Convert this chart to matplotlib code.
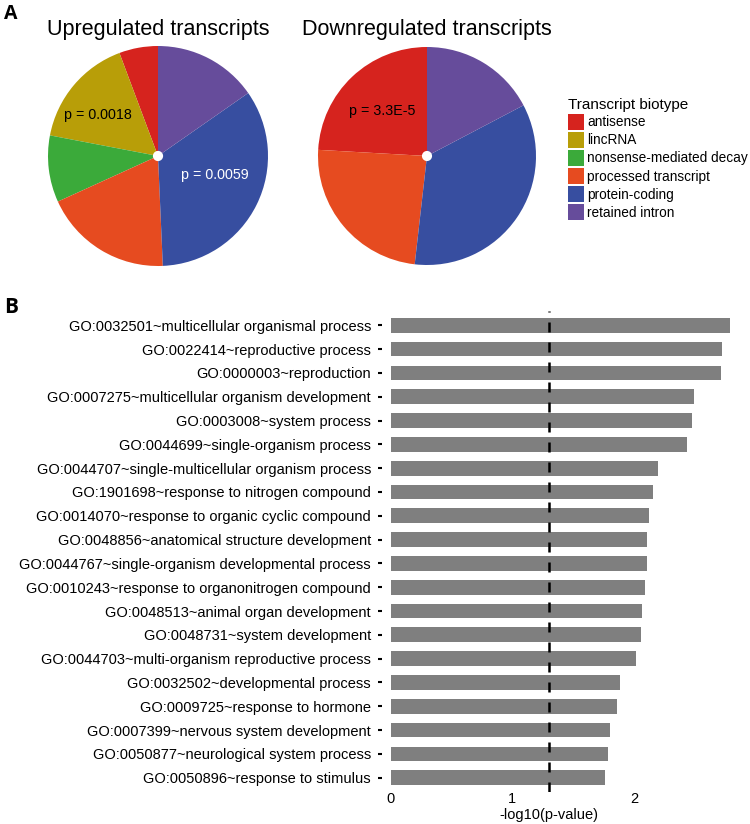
import numpy as np
import matplotlib
matplotlib.use("Agg")
import matplotlib.pyplot as plt
from matplotlib.patches import Patch

plt.rcParams['font.family'] = ['Liberation Sans', 'DejaVu Sans']

# pie data (percent of transcripts)
biotypes = ["antisense", "lincRNA", "nonsense-mediated decay",
            "processed transcript", "protein-coding", "retained intron"]
biotype_colors = ["#D6231E", "#B89E08", "#3BAA3A", "#E64B20", "#374EA0", "#664C9B"]
up_share = [5.7, 16.3, 9.8, 18.9, 34.0, 15.3]
down_share = [24.1, 0.0, 0.0, 24.1, 34.5, 17.3]

# GO enrichment (-log10 p)
go_terms = [
    "GO:0032501~multicellular organismal process",
    "GO:0022414~reproductive process",
    "GO:0000003~reproduction",
    "GO:0007275~multicellular organism development",
    "GO:0003008~system process",
    "GO:0044699~single-organism process",
    "GO:0044707~single-multicellular organism process",
    "GO:1901698~response to nitrogen compound",
    "GO:0014070~response to organic cyclic compound",
    "GO:0048856~anatomical structure development",
    "GO:0044767~single-organism developmental process",
    "GO:0010243~response to organonitrogen compound",
    "GO:0048513~animal organ development",
    "GO:0048731~system development",
    "GO:0044703~multi-organism reproductive process",
    "GO:0032502~developmental process",
    "GO:0009725~response to hormone",
    "GO:0007399~nervous system development",
    "GO:0050877~neurological system process",
    "GO:0050896~response to stimulus",
]
go_logp = [2.786, 2.722, 2.717, 2.495, 2.478, 2.437, 2.199, 2.158, 2.120, 2.106,
           2.104, 2.090, 2.065, 2.057, 2.018, 1.882, 1.863, 1.800, 1.786, 1.763]
cutoff = -np.log10(0.05)

W, H = 750, 824
fig = plt.figure(figsize=(W / 100, H / 100), dpi=100)


def px_axes(left, top, width, height):
    return fig.add_axes([left / W, 1 - (top + height) / H, width / W, height / H])


def draw_pie(cx, cy, r, share, title, labels):
    ax = px_axes(cx - r, cy - r, 2 * r, 2 * r)
    ax.pie(share, colors=biotype_colors, startangle=90, counterclock=True,
           wedgeprops=dict(linewidth=0))
    ax.set_xlim(-1, 1)
    ax.set_ylim(-1, 1)
    ax.add_patch(plt.Circle((0, 0), 0.04, color="white", zorder=5))
    for (tx, ty, txt, col) in labels:
        ax.text(tx, ty, txt, ha="center", va="center", fontsize=10.3, color=col)
    fig.text(cx / W, 1 - 29 / H, title, ha="center", va="center", fontsize=15.5)
    return ax


draw_pie(158, 156, 110, up_share, "Upregulated transcripts",
         [(-0.55, 0.37, "p = 0.0018", "black"), (0.52, -0.17, "p = 0.0059", "white")])
draw_pie(427, 156, 109, down_share, "Downregulated transcripts",
         [(-0.41, 0.41, "p = 3.3E-5", "black")])

handles = [Patch(facecolor=c, edgecolor="none") for c in biotype_colors]
fig.legend(handles, biotypes, loc="upper left", bbox_to_anchor=(568 / W, 1 - 98 / H),
           frameon=False, fontsize=9.8, title="Transcript biotype", title_fontsize=11,
           alignment="left", handlelength=1.17, handleheight=1.48, labelspacing=0.12,
           handletextpad=0.22, borderpad=0, borderaxespad=0)

fig.text(4 / W, 1 - 4 / H, "A", fontsize=14, fontweight="bold", family="Open Sans",
         ha="left", va="top")
fig.text(4 / W, 1 - 297 / H, "B", fontsize=15, fontweight="bold", family="Open Sans",
         ha="left", va="top")

# bar chart
ax = px_axes(382, 311, 365, 481)
y = np.arange(len(go_terms))
ax.barh(y, go_logp, height=0.62, color="#7f7f7f")
ax.axvline(cutoff, color="black", lw=1.8, linestyle=(0, (4, 4)))
ax.set_ylim(len(go_terms) - 1 + 0.6, -0.6)
ax.set_xlim(-0.0715, 2.928)
ax.set_yticks(y)
ax.set_yticklabels(go_terms, fontsize=10.5)
ax.set_xticks([0, 1, 2])
ax.set_xticklabels(["0", "1", "2"], fontsize=10.5)
ax.tick_params(axis="y", length=3, width=1.5, pad=5)
ax.tick_params(axis="x", length=0, pad=0)
for s in ax.spines.values():
    s.set_visible(False)
ax.set_xlabel("-log10(p-value)", fontsize=10.5)
ax.xaxis.set_label_coords((549 - 382) / 365, -(815 - 792) / 481)
ax.xaxis.label.set_va("center")

fig.savefig("out.png", dpi=100)
